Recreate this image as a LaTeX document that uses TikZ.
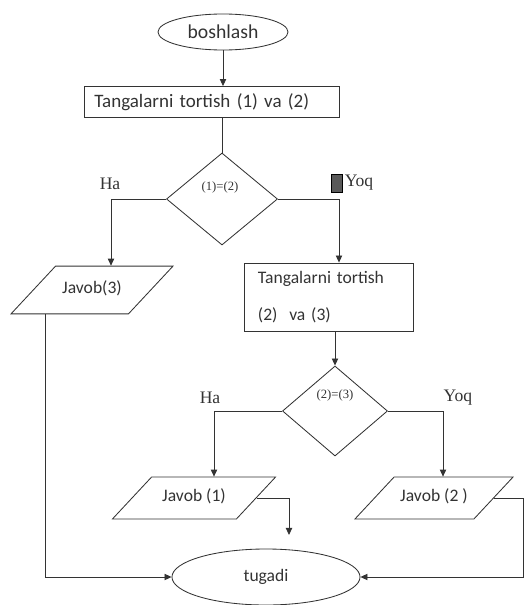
\documentclass[tikz,border=0pt]{standalone}
\usepackage{fontspec}
\setmainfont{Carlito}
\newfontfamily\serifm{Liberation Serif}
\usetikzlibrary{shapes,arrows.meta}

\begin{document}
\begin{tikzpicture}[x=0.025cm,y=-0.025cm,
     line width=0.6pt,color=black!80,
     >={Triangle[length=5pt,width=4.5pt]},
     term/.style={draw,ellipse,inner sep=0pt,font=\fontsize{12.5}{15}\selectfont},
     proc/.style={draw,rectangle,align=left,font=\fontsize{12.5}{15}\selectfont},
     test/.style={draw,diamond,inner sep=0pt},
     io/.style={draw,trapezium,trapezium left angle=47,trapezium right angle=133,
        trapezium stretches body,inner xsep=0pt,text height=8pt,text depth=3pt,
        font=\fontsize{12.5}{15}\selectfont},
     lab/.style={font=\serifm\fontsize{12.5}{15}\selectfont},
     cond/.style={font=\serifm\fontsize{9}{10}\selectfont}
     ]
%Page frame of the reference
\useasboundingbox (0,0) rectangle (525,605);

%x of the vertical branch lines
\coordinate (hal) at (111,0);
\coordinate (yol) at (339,0);
\coordinate (hal2) at (214,0);
\coordinate (yol2) at (443,0);
\coordinate (lft) at (45,0);
\coordinate (rgt) at (523,0);
\coordinate (tail) at (289,535);

%Blocks
\node[term,minimum width=3.25cm,minimum height=0.9cm,font=\fontsize{14}{16}\selectfont] (start) at (223,32) {boshlash};
\node[proc,minimum height=0.775cm,inner xsep=0.25cm,text width=5.875cm,font=\fontsize{13.5}{15}\selectfont] (tort1) at (212,102) {Tangalarni tortish (1) va (2)};
\node[test,minimum width=2.775cm,minimum height=2.3cm] (cmp1) at (222,199) {};
\node[cond] (c1) at (220,187) {(1)=(2)};

\node[io,minimum width=4.05cm,inner ysep=11.5pt] (jav3) at (92,290) {Javob(3)};
\node[proc,minimum height=1.7cm,inner xsep=0.35cm,text width=3.525cm] (tort2) at (328.5,297) {Tangalarni tortish\\[11pt](2)~ va (3)};

\node[test,minimum width=2.625cm,minimum height=2.25cm] (cmp2) at (335,411) {};
\node[cond] (c2) at (335,395) {(2)=(3)};

\node[io,minimum width=4.075cm,inner ysep=9.4pt] (jav1) at (194,498) {Javob (1)};
\node[io,minimum width=3.95cm,inner ysep=9.4pt] (jav2) at (434,498) {Javob (2 )};
\node[term,minimum width=4.7cm,minimum height=1.4cm] (stop) at (266,577) {tugadi};

%Branch labels
\node[lab] (ha1) at (110,184) {Ha};
\node[draw=black,fill=black!65,inner sep=0pt,minimum width=0.275cm,minimum height=0.45cm] (mark) at (337,183) {};
\node[lab,anchor=west,inner sep=1pt] (yoq1) at (mark.east) {Yoq};
\node[lab] (ha2) at (210,398) {Ha};
\node[lab] (yoq2) at (458,398) {Yoq};

%Connectors
\draw[->] (start) -- (start |- tort1.north);
\draw (tort1.south -| cmp1.north) -- (cmp1.north);
\draw[->] (cmp1.west) -| (hal |- jav3.north);
\draw[->] (cmp1.east) -| (yol |- tort2.north);
\draw[->] (tort2.south -| cmp2.north) -- (cmp2.north);
\draw[->] (cmp2.west) -| (hal2 |- jav1.north);
\draw[->] (cmp2.east) -| (yol2 |- jav2.north);
\draw[->] (jav1.east) -| (tail);
\draw[->] (lft |- jav3.south) |- (stop.west);
\draw[->] (jav2.east) -- (rgt |- jav2.east) |- (stop.east);
\end{tikzpicture}
\end{document}
